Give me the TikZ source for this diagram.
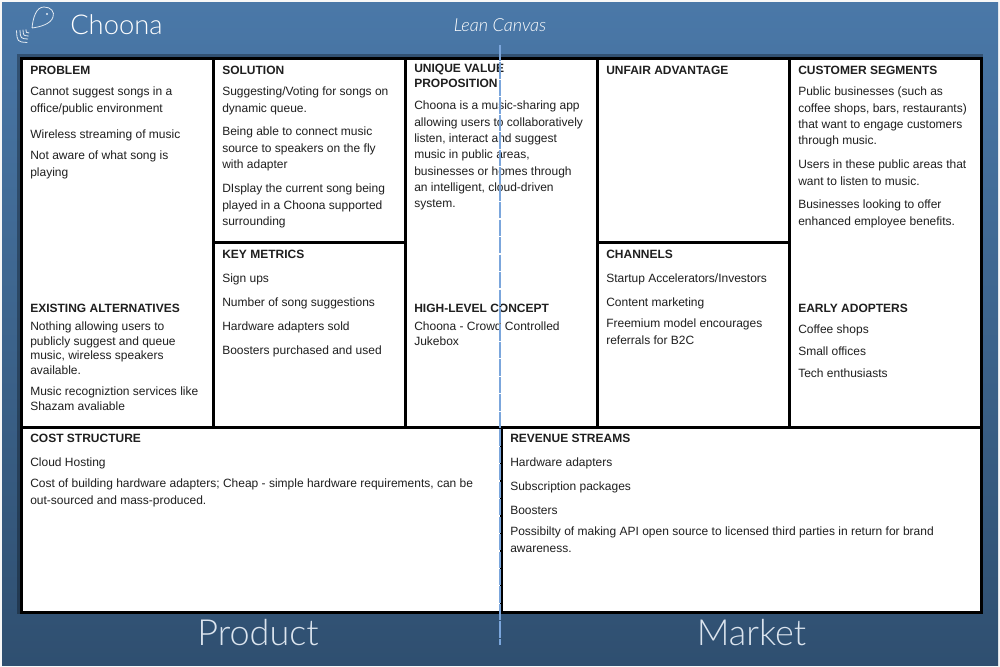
\documentclass[tikz,border=0pt]{standalone}
\usepackage{fontspec}
\setmainfont{Liberation Sans}
\newfontfamily\thinfont{Lato Light}
\usepackage{tikz}
\usetikzlibrary{positioning,calc}

\begin{document}
\begin{tikzpicture}[
    x=0.75pt, y=-0.75pt,
    cell/.style={rectangle, draw=black, line width=1.9pt, fill=white, anchor=north west, inner sep=0pt},
    head/.style={anchor=north west, inner sep=0pt, align=left, font=\fontsize{9}{10.8}\selectfont\bfseries, text=black!88, execute at begin node=\strut},
    body/.style={anchor=north west, inner sep=0pt, align=left, font=\fontsize{9}{12.2}\selectfont, text=black!88, execute at begin node=\strut},
    tight/.style={body, font=\fontsize{9}{10.8}\selectfont},
    title/.style={inner sep=0pt, text=white, font=\thinfont},
    guide/.style={line width=0.9pt, color=guideblue, dash pattern=on 12.2pt off 0.9pt},
    fishline/.style={draw=white!85!fishbg, line width=0.6pt}
]
    \definecolor{guideblue}{HTML}{7BA6DC}
    \definecolor{fishbg}{HTML}{4A78A8}
    \useasboundingbox (0,0) rectangle (1000,667);
    % background
    \fill[white!85!black!20] (0,0) rectangle (1000,667);
    \shade[top color=fishbg, bottom color={rgb,255:red,47;green,79;blue,112}] (2,3) rectangle (998,665);
    \draw[black, opacity=0.3, line width=4.5pt] (20,57) rectangle (980,611);
    % logo
    \draw[fishline] (32,28) .. controls (33,18) and (36,7) .. (44,7) .. controls (51,7) and (55,12) .. (53,17) .. controls (51,24) and (40,27) .. (32,28);
    \fill[white!85!fishbg] (47,14) circle (1.1);
    \foreach \r in {4,7,10,13.5}
        \draw[fishline] ({30-\r},{29+0.1*\r}) .. controls ({30-0.95*\r},{29+0.95*\r}) .. ({30-0.2*\r},{29+\r});
    \node[title, font=\thinfont\fontsize{20.5}{24}\selectfont, anchor=west] (brand) at (70,25) {Choona};
    \node[title, font=\thinfont\itshape\fontsize{13.5}{16}\selectfont] (canvas) at (500,25) {Lean Canvas};
    \node[title, text=white!80!fishbg, font=\thinfont\fontsize{27}{32}\selectfont] (product) at (258,633) {Product};
    \node[title, text=white!80!fishbg, font=\thinfont\fontsize{27}{32}\selectfont] (market) at (751.5,633) {Market};
    % cells
    \node[cell, minimum width=144pt, minimum height=276.75pt] (problem) at (20,57) {};
    \node[cell, minimum width=144pt, minimum height=138pt] (solution) at (212,57) {};
    \node[cell, minimum width=144pt, minimum height=138.75pt] (metrics) at (212,241) {};
    \node[cell, minimum width=144pt, minimum height=276.75pt] (value) at (404,57) {};
    \node[cell, minimum width=144pt, minimum height=138pt] (unfair) at (596,57) {};
    \node[cell, minimum width=144pt, minimum height=138.75pt] (channels) at (596,241) {};
    \node[cell, minimum width=144pt, minimum height=276.75pt] (segments) at (788,57) {};
    \node[cell, minimum width=360pt, minimum height=138.75pt] (cost) at (20,426) {};
    \node[cell, minimum width=360pt, minimum height=138.75pt] (revenue) at (500,426) {};
    % problem
    \node[head] (problemhd) at (30,64) {PROBLEM};
    \node[body] (problem1) at (30,87) {Cannot suggest songs in a\\office/public environment};
    \node[body] (problem2) at (30,127) {Wireless streaming of music};
    \node[body] (problem3) at (30,151) {Not aware of what song is\\playing};
    \node[head] (existinghd) at (30,302) {EXISTING ALTERNATIVES};
    \node[tight] (existing1) at (30,322) {Nothing allowing users to\\publicly suggest and queue\\music, wireless speakers\\available.};
    \node[tight] (existing2) at (30,387) {Music recogniztion services like\\Shazam avaliable};
    % solution
    \node[head] (solutionhd) at (222,64) {SOLUTION};
    \node[body] (solution1) at (222,87) {Suggesting/Voting for songs on\\dynamic queue.};
    \node[body] (solution2) at (222,127) {Being able to connect music\\source to speakers on the fly\\with adapter};
    \node[body] (solution3) at (222,184) {DIsplay the current song being\\played in a Choona supported\\surrounding};
    % key metrics
    \node[head] (metricshd) at (222,248) {KEY METRICS};
    \node[body] (metrics1) at (222,271) {Sign ups};
    \node[body] (metrics2) at (222,295) {Number of song suggestions};
    \node[body] (metrics3) at (222,319) {Hardware adapters sold};
    \node[body] (metrics4) at (222,343) {Boosters purchased and used};
    % unique value
    \node[head] (valuehd) at (414,64) {UNIQUE VALUE\\PROPOSITION};
    \node[body] (value1) at (414,101) {Choona is a music-sharing app\\allowing users to collaboratively\\listen, interact and suggest\\music in public areas,\\businesses or homes through\\an intelligent, cloud-driven\\system.};
    \node[head] (concepthd) at (414,302) {HIGH-LEVEL CONCEPT};
    \node[tight] (concept1) at (414,322) {Choona - Crowd Controlled\\Jukebox};
    % unfair advantage
    \node[head] (unfairhd) at (606,64) {UNFAIR ADVANTAGE};
    % channels
    \node[head] (channelshd) at (606,248) {CHANNELS};
    \node[body] (channels1) at (606,271) {Startup Accelerators/Investors};
    \node[body] (channels2) at (606,295) {Content marketing};
    \node[body] (channels3) at (606,319) {Freemium model encourages\\referrals for B2C};
    % customer segments
    \node[head] (segmentshd) at (798,64) {CUSTOMER SEGMENTS};
    \node[body] (segments1) at (798,87) {Public businesses (such as\\coffee shops, bars, restaurants)\\that want to engage customers\\through music.};
    \node[body] (segments2) at (798,160) {Users in these public areas that\\want to listen to music.};
    \node[body] (segments3) at (798,200) {Businesses looking to offer\\enhanced employee benefits.};
    \node[head] (adoptershd) at (798,302) {EARLY ADOPTERS};
    \node[body] (adopters1) at (798,322) {Coffee shops};
    \node[body] (adopters2) at (798,344) {Small offices};
    \node[body] (adopters3) at (798,366) {Tech enthusiasts};
    % cost structure
    \node[head] (costhd) at (30,432) {COST STRUCTURE};
    \node[body] (cost1) at (30,455) {Cloud Hosting};
    \node[body] (cost2) at (30,479) {Cost of building hardware adapters; Cheap - simple hardware requirements, can be\\out-sourced and mass-produced.};
    % revenue streams
    \node[head] (revenuehd) at (510,432) {REVENUE STREAMS};
    \node[body] (revenue1) at (510,455) {Hardware adapters};
    \node[body] (revenue2) at (510,479) {Subscription packages};
    \node[body] (revenue3) at (510,503) {Boosters};
    \node[body] (revenue4) at (510,527) {Possibilty of making API open source to licensed third parties in return for brand\\awareness.};
    % centre guide
    \coordinate (guidetop) at (500,45);
    \coordinate (guidebot) at (500,645);
    \draw[guide] (guidetop) -- (guidebot);
\end{tikzpicture}
\end{document}
